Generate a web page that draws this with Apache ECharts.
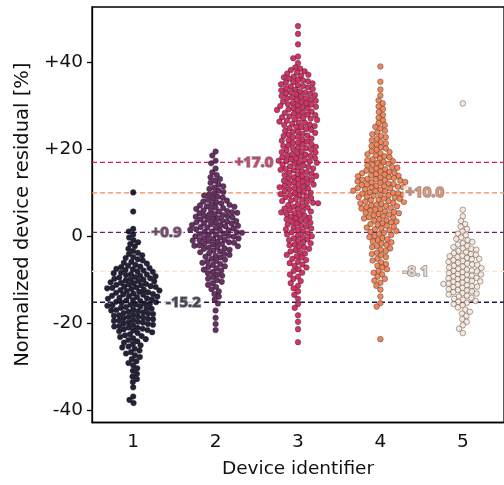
<!DOCTYPE html>
<html>
<head>
<meta charset="utf-8">
<script src="https://cdn.jsdelivr.net/npm/echarts@6/dist/echarts.min.js"></script>
<style>
  html, body { margin: 0; padding: 0; background: #ffffff; }
  #chart { width: 504px; height: 485px; }
</style>
</head>
<body>
<div id="chart"></div>
<script>
// Device categories on the x axis
const devices = ['1', '2', '3', '4', '5'];

// Normalized residuals per device [%]
const residualsDevice1 = [
  10.1, 5.7, 1.7, 1.1, 0.4, -0.3, -0.9, -1.4, -1.8, -2.3, -2.9, -3.4, -3.8,
  -4.1, -4.4, -4.8, -5.0, -5.3, -5.6, -5.9,
  -6.1, -6.3, -6.6, -6.8, -7.0, -7.1, -7.3, -7.5, -7.6, -7.8, -7.9,
  -8.1, -8.2, -8.4, -8.5, -8.7, -8.8, -9.0, -9.1, -9.2, -9.4, -9.5, -9.7, -9.8, -9.9,
  -10.0, -10.2, -10.3, -10.4, -10.6, -10.7, -10.8, -11.0, -11.1, -11.2, -11.3, -11.5, -11.6, -11.7, -11.8, -11.9,
  -12.0, -12.1, -12.3, -12.4, -12.5, -12.6, -12.8, -12.9, -13.0, -13.2, -13.3, -13.4, -13.5, -13.7, -13.8, -13.9,
  -14.0, -14.2, -14.3, -14.4, -14.5, -14.7, -14.8, -14.9, -15.1, -15.2, -15.3, -15.5, -15.6, -15.7, -15.8, -15.9,
  -16.0, -16.2, -16.3, -16.5, -16.6, -16.7, -16.9, -17.0, -17.1, -17.3, -17.4, -17.5, -17.7, -17.8, -17.9,
  -18.1, -18.2, -18.3, -18.5, -18.6, -18.7, -18.9, -19.0, -19.1, -19.3, -19.4, -19.5, -19.7, -19.8, -19.9,
  -20.1, -20.2, -20.4, -20.5, -20.7, -20.8, -21.0, -21.1, -21.3, -21.4, -21.6, -21.7, -21.9,
  -22.1, -22.3, -22.6, -22.8, -23.0, -23.2, -23.5, -23.7, -23.9,
  -24.2, -24.5, -24.8, -25.1, -25.4, -25.6, -25.9,
  -26.3, -26.7, -27.0, -27.4, -27.8, -28.3, -28.8, -29.2, -29.7,
  -30.4, -31.0, -31.7, -32.3, -32.9, -33.6, -34.8, -36.9, -37.7, -38.4
];
const residualsDevice2 = [
  19.5, 18.6, 17.4, 16.8, 15.6, 14.7, 14.1, 13.6, 13.2, 12.8, 12.3, 11.9, 11.5, 11.2,
  10.9, 10.5, 10.2, 9.9, 9.6, 9.4, 9.1,
  8.9, 8.7, 8.4, 8.2, 8.0, 7.8, 7.6, 7.4, 7.2, 7.1,
  6.9, 6.8, 6.6, 6.5, 6.3, 6.1, 6.0, 5.8, 5.7, 5.5, 5.4, 5.3, 5.1, 5.0,
  4.9, 4.7, 4.6, 4.5, 4.3, 4.2, 4.0, 3.9, 3.8, 3.6, 3.5, 3.4, 3.2, 3.1, 3.0,
  2.9, 2.8, 2.6, 2.5, 2.4, 2.3, 2.1, 2.0, 1.9, 1.8, 1.6, 1.5, 1.4, 1.3, 1.1, 1.0,
  0.9, 0.8, 0.6, 0.5, 0.4, 0.2, 0.1, 0.0, -0.1, -0.3, -0.4, -0.5, -0.6, -0.8, -0.9, -1.0,
  -1.1, -1.3, -1.4, -1.5, -1.7, -1.8, -1.9, -2.1, -2.2, -2.3, -2.5, -2.6, -2.8, -2.9,
  -3.1, -3.3, -3.5, -3.7, -3.9, -4.1, -4.3, -4.5, -4.7, -4.9,
  -5.2, -5.4, -5.7, -5.9, -6.1, -6.4, -6.6, -6.9,
  -7.1, -7.4, -7.7, -7.9, -8.2, -8.5, -8.8,
  -9.1, -9.4, -9.8, -10.1, -10.5, -10.8, -11.2, -11.7, -12.2, -12.7,
  -13.3, -13.9, -14.6, -15.5, -17.1, -18.8, -20.2, -21.6
];
const residualsDevice3 = [
  48.4, 46.6, 44.2, 41.4, 41.0, 39.9,
  38.9, 38.6, 38.3, 38.0, 37.7, 37.5, 37.2, 37.0,
  36.8, 36.6, 36.3, 36.1, 35.9, 35.7, 35.5, 35.4, 35.2, 35.0,
  34.8, 34.6, 34.5, 34.3, 34.1, 33.9, 33.8, 33.6, 33.4, 33.2, 33.1,
  32.9, 32.8, 32.6, 32.5, 32.3, 32.1, 32.0, 31.8, 31.7, 31.5, 31.4, 31.2, 31.0,
  30.9, 30.7, 30.6, 30.4, 30.3, 30.1, 30.0, 29.8, 29.7, 29.5, 29.4, 29.2, 29.1,
  28.9, 28.7, 28.5, 28.4, 28.2, 28.0, 27.9, 27.7, 27.6, 27.4, 27.2, 27.1,
  26.9, 26.8, 26.6, 26.4, 26.2, 26.1, 25.9, 25.7, 25.6, 25.4, 25.2, 25.1,
  24.9, 24.7, 24.5, 24.3, 24.1, 24.0, 23.8, 23.6, 23.4, 23.2, 23.1,
  22.9, 22.7, 22.5, 22.3, 22.1, 22.0, 21.8, 21.6, 21.4, 21.2, 21.1,
  20.9, 20.8, 20.6, 20.4, 20.3, 20.1, 19.9, 19.8, 19.6, 19.4, 19.3, 19.1,
  18.9, 18.8, 18.6, 18.5, 18.3, 18.2, 18.0, 17.9, 17.7, 17.6, 17.4, 17.3, 17.2, 17.0,
  16.9, 16.7, 16.5, 16.3, 16.1, 16.0, 15.8, 15.6, 15.5, 15.3, 15.2, 15.0,
  14.8, 14.6, 14.4, 14.3, 14.1, 13.9, 13.8, 13.6, 13.4, 13.3, 13.1, 13.0,
  12.8, 12.6, 12.4, 12.2, 12.1, 11.9, 11.8, 11.6, 11.4, 11.3, 11.1, 11.0,
  10.8, 10.6, 10.4, 10.2, 10.0, 9.9, 9.7, 9.5, 9.4, 9.2, 9.0,
  8.8, 8.6, 8.4, 8.2, 8.1, 7.9, 7.7, 7.6, 7.4, 7.2, 7.0,
  6.8, 6.6, 6.4, 6.2, 6.0, 5.8, 5.7, 5.5, 5.3, 5.1,
  4.9, 4.7, 4.5, 4.3, 4.1, 3.9, 3.7, 3.5, 3.3, 3.1,
  2.9, 2.7, 2.4, 2.2, 2.0, 1.8, 1.6, 1.4, 1.1,
  0.9, 0.7, 0.4, 0.2, 0.0, -0.2, -0.5, -0.7, -0.9,
  -1.1, -1.4, -1.6, -1.9, -2.1, -2.4, -2.6, -2.9,
  -3.2, -3.5, -3.7, -4.0, -4.3, -4.6, -4.9,
  -5.2, -5.5, -5.9, -6.2, -6.5, -6.8,
  -7.2, -7.6, -8.0, -8.4, -8.8, -9.3, -9.8, -10.3, -10.8,
  -11.4, -12.0, -12.7, -13.5, -14.4, -15.6, -16.5,
  -18.2, -19.7, -21.4, -24.4
];
const residualsDevice4 = [
  39.1, 35.6, 33.8, 32.4, 31.3, 30.6, 29.9, 29.3, 28.6, 27.9, 27.3,
  26.7, 26.1, 25.6, 25.2, 24.8, 24.3, 23.9, 23.5, 23.1,
  22.8, 22.4, 22.1, 21.7, 21.4, 21.1, 20.8, 20.5, 20.2, 19.9, 19.6, 19.4, 19.1,
  18.9, 18.6, 18.4, 18.2, 17.9, 17.7, 17.5, 17.3, 17.1,
  16.9, 16.7, 16.5, 16.3, 16.1, 15.9, 15.8, 15.6, 15.4, 15.2, 15.1,
  14.9, 14.8, 14.6, 14.5, 14.3, 14.2, 14.0, 13.9, 13.8, 13.6, 13.5, 13.4, 13.2, 13.1, 13.0,
  12.9, 12.8, 12.6, 12.5, 12.4, 12.3, 12.1, 12.0, 11.9, 11.8, 11.6, 11.5, 11.4, 11.3, 11.2, 11.1, 11.0,
  10.9, 10.8, 10.7, 10.5, 10.4, 10.3, 10.1, 10.0, 9.9, 9.8, 9.6, 9.5, 9.4, 9.3, 9.1, 9.0,
  8.9, 8.7, 8.6, 8.4, 8.3, 8.1, 8.0, 7.9, 7.7, 7.6, 7.4, 7.3, 7.1, 7.0,
  6.9, 6.7, 6.5, 6.4, 6.2, 6.1, 5.9, 5.7, 5.6, 5.4, 5.3, 5.1, 5.0,
  4.8, 4.6, 4.4, 4.3, 4.1, 3.9, 3.7, 3.6, 3.4, 3.2, 3.0,
  2.8, 2.6, 2.4, 2.2, 2.0, 1.8, 1.6, 1.4, 1.2, 1.0,
  0.8, 0.5, 0.3, 0.0, -0.2, -0.4, -0.7, -0.9,
  -1.2, -1.4, -1.7, -2.0, -2.3, -2.5, -2.8,
  -3.1, -3.4, -3.8, -4.1, -4.4, -4.8, -5.2, -5.6, -6.0, -6.4, -6.8,
  -7.2, -7.6, -8.0, -8.4, -8.8, -9.3, -9.8, -10.2, -10.7, -11.4, -12.3,
  -13.9, -15.4, -16.2, -23.7
];
const residualsDevice5 = [
  30.6, 6.1, 4.6, 3.5, 2.8, 2.2, 1.7, 1.1, 0.6, 0.2,
  -0.3, -0.6, -0.9, -1.3, -1.6, -1.9,
  -2.2, -2.5, -2.8, -2.9, -3.1, -3.4, -3.7, -3.9,
  -4.1, -4.3, -4.5, -4.6, -4.8, -5.0, -5.2, -5.3, -5.5, -5.7, -5.9,
  -6.1, -6.3, -6.5, -6.6, -6.8, -7.0, -7.2, -7.3, -7.5, -7.7, -7.9,
  -8.0, -8.1, -8.3, -8.5, -8.7, -8.8, -8.9, -9.1, -9.3, -9.5, -9.6, -9.7, -9.9,
  -10.1, -10.3, -10.4, -10.5, -10.7, -10.9, -11.0, -11.1, -11.3, -11.5, -11.6, -11.7, -11.9,
  -12.2, -12.4, -12.5, -12.7, -12.9, -13.1, -13.2, -13.4, -13.7, -13.9,
  -14.2, -14.4, -14.6, -14.9, -15.1, -15.3, -15.6, -15.9,
  -16.4, -16.9, -17.4, -17.8, -18.4, -19.1, -19.7, -20.5, -21.3, -22.3
];
const residualsByDevice = [residualsDevice1, residualsDevice2, residualsDevice3, residualsDevice4, residualsDevice5];

// Median residual per device and its annotation text
const medianValues = [-15.2, 0.9, 17.0, 10.0, -8.1];
const medianLabels = ['-15.2', '+0.9', '+17.0', '+10.0', '-8.1'];

// Y axis ticks
const yTickValues = [-40, -20, 0, 20, 40];
const yTickLabels = ['-40', '-20', '0', '+20', '+40'];

// ---- styling ----
const pointColors = ['#0c0a22', '#581952', '#cc1f56', '#ef7a4b', '#f7e6d7'];
const lineColors = ['#1d1b3e', '#6d2466', '#d91f5a', '#f58b5c', '#fbe2d0'];
const labelColors = ['#2a2844', '#6c2a62', '#cc2b5c', '#f08a62', '#f7e2d2'];
// horizontal placement (in device-axis units) of each median annotation
const labelAnchorX = [1.61, 1.405, 2.466, 4.54, 4.43];

const AXIS_FONT = 'DejaVu Sans';
const NOTE_FONT = 'Noto Sans';
const chart = echarts.init(document.getElementById('chart'), null, { renderer: 'canvas' });

const series = [];

// dashed median lines, under everything else
medianValues.forEach((v, i) => {
  series.push({
    type: 'line',
    xAxisIndex: 1,
    yAxisIndex: 0,
    z: 1,
    silent: true,
    symbol: 'none',
    data: [[0.5, v], [5.5, v]],
    lineStyle: { color: lineColors[i], width: 1.3, type: [5, 3] }
  });
});

// swarm points per device
residualsByDevice.forEach((vals, i) => {
  series.push({
    type: 'scatter',
    xAxisIndex: 0,
    yAxisIndex: 0,
    z: 3,
    symbol: 'circle',
    symbolSize: 5.6,
    data: vals.map(v => [i, v]),
    itemStyle: {
      color: pointColors[i],
      opacity: 0.9,
      borderColor: 'rgba(40,40,40,0.75)',
      borderWidth: 0.6
    }
  });
});

// median annotations
medianValues.forEach((v, i) => {
  series.push({
    type: 'scatter',
    xAxisIndex: 1,
    yAxisIndex: 0,
    z: 4,
    silent: true,
    symbolSize: 1,
    itemStyle: { color: 'rgba(0,0,0,0)' },
    data: [[labelAnchorX[i], v]],
    label: {
      show: true,
      position: 'inside',
      formatter: medianLabels[i],
      fontFamily: NOTE_FONT,
      fontWeight: 'bold',
      fontSize: 15,
      color: labelColors[i],
      textBorderColor: '#777777',
      textBorderWidth: 1.6,
      backgroundColor: '#ffffff',
      padding: [0, 2, 0, 2],
      lineHeight: 14
    }
  });
});

chart.setOption({
  animation: false,
  backgroundColor: '#ffffff',
  grid: {
    left: 92, right: -2.5, top: 7, bottom: 62.5,
    show: true, borderColor: '#000000', borderWidth: 1.3,
    backgroundColor: 'transparent'
  },
  xAxis: [
    {
      type: 'category',
      data: devices,
      boundaryGap: true,
      jitter: 72,
      jitterOverlap: false,
      jitterMargin: -0.5,
      name: 'Device identifier',
      nameLocation: 'middle',
      nameGap: 37,
      nameTextStyle: { fontFamily: AXIS_FONT, fontSize: 18.5, color: '#111' },
      axisLine: { onZero: false, lineStyle: { color: '#000', width: 1.3 } },
      axisTick: { alignWithLabel: true, length: 5, lineStyle: { color: '#000', width: 1.3 } },
      axisLabel: { fontFamily: AXIS_FONT, fontSize: 18.5, color: '#111', margin: 10 },
      splitLine: { show: false }
    },
    {
      type: 'value',
      min: 0.5, max: 5.5,
      show: false,
      axisLine: { onZero: false },
      splitLine: { show: false }
    }
  ],
  yAxis: {
    type: 'value',
    min: -42.9, max: 52.8,
    name: 'Normalized device residual [%]',
    nameLocation: 'middle',
    nameGap: 56,
    nameTextStyle: { fontFamily: AXIS_FONT, fontSize: 19.5, color: '#111' },
    axisLine: { show: true, onZero: false, lineStyle: { color: '#000', width: 1.3 } },
    axisTick: { show: true, length: 5, customValues: yTickValues, lineStyle: { color: '#000', width: 1.3 } },
    axisLabel: {
      fontFamily: AXIS_FONT, fontSize: 18.5, color: '#111', margin: 9,
      customValues: yTickValues,
      formatter: v => yTickLabels[yTickValues.indexOf(v)]
    },
    splitLine: { show: false }
  },
  series: series
});
</script>
</body>
</html>
